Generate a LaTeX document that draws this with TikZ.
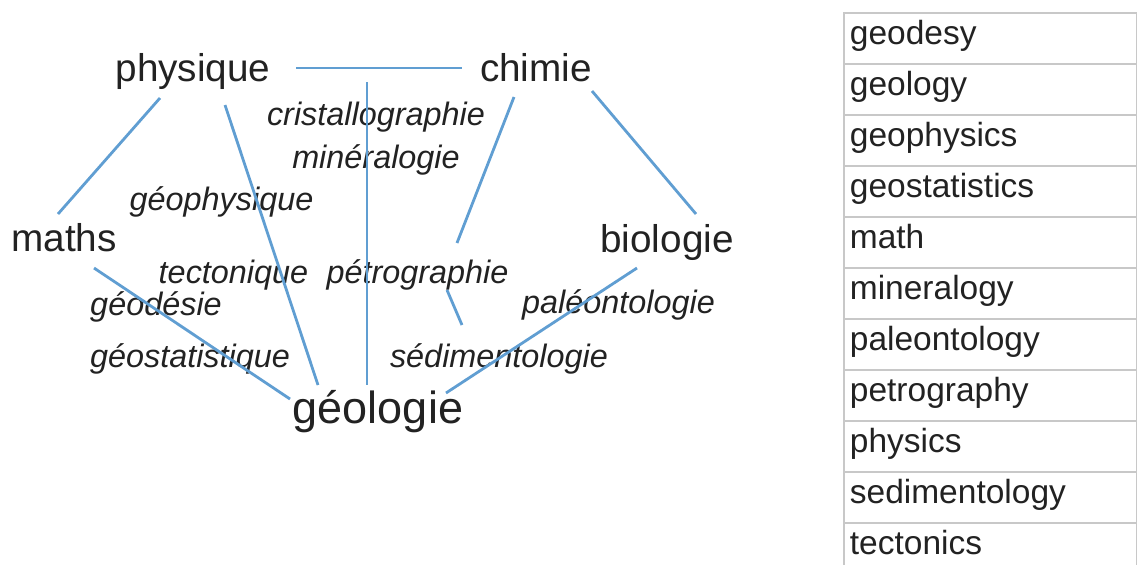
\documentclass[tikz,border=0pt]{standalone}
\usepackage{fontspec}
\setmainfont{Liberation Sans}
\usetikzlibrary{calc, positioning}
\definecolor{linkblue}{RGB}{96,158,210}
\definecolor{ink}{RGB}{34,34,34}
\definecolor{rule}{RGB}{200,200,200}

\begin{document}
\begin{tikzpicture}[x=0.5pt, y=-0.5pt,
    field/.style={anchor=base, inner sep=0pt, text=ink, font=\fontsize{19.35pt}{22pt}\selectfont},
    topic/.style={anchor=base, inner sep=0pt, text=ink, font=\fontsize{16.2pt}{19pt}\selectfont\itshape},
    link/.style={draw=linkblue, line width=1.4pt},
    cell/.style={draw=rule, line width=0.9pt, anchor=north west, inner ysep=0pt, inner xsep=3pt,
        text width=140.5pt, align=left, text height=16pt, text depth=9.5pt, text=ink,
        font=\fontsize{16.75pt}{19pt}\selectfont}]
\useasboundingbox (0,0) rectangle (1137,564);

\node[field] (phys) at (193,81) {physique};
\node[field] (chim) at (536,81) {chimie};
\node[field] (maths) at (64,251) {maths};
\node[field] (bio) at (667,252) {biologie};
\node[field, font=\fontsize{22.5pt}{26pt}\selectfont] (geol) at (378,423) {géologie};

\node[topic] (cristal) at (376,125) {cristallographie};
\node[topic] (miner) at (376,168) {minéralogie};
\node[topic] (geoph) at (221.5,210) {géophysique};
\node[topic] (tecto) at (233.5,283) {tectonique};
\node[topic] (petro) at (417.5,283) {pétrographie};
\node[topic] (geod) at (156,315) {géodésie};
\node[topic] (geostat) at (190,367) {géostatistique};
\node[topic] (paleo) at (618.5,313) {paléontologie};
\node[topic] (sedim) at (499,367) {sédimentologie};

\coordinate (tee) at (367,82);

\draw[link] ([shift={(103,-13)}]phys.base) -- ([shift={(-74,-13)}]chim.base);
\draw[link] (tee) -- ([shift={(-11,-38)}]geol.base);
\draw[link] ([shift={(-33,17)}]phys.base) -- ([shift={(-6,-37)}]maths.base);
\draw[link] ([shift={(32,24)}]phys.base) -- ([shift={(-60,-38)}]geol.base);
\draw[link] ([shift={(-22,16)}]chim.base) -- ([shift={(39.5,-40)}]petro.base);
\draw[link] ([shift={(29.5,7)}]petro.base) -- ([shift={(-37,-42)}]sedim.base);
\draw[link] ([shift={(56,10)}]chim.base) -- ([shift={(29,-38)}]bio.base);
\draw[link] ([shift={(-30,16)}]bio.base) -- ([shift={(68,-30)}]geol.base);
\draw[link] ([shift={(30,17)}]maths.base) -- ([shift={(-88,-24)}]geol.base);

% glossary
\foreach \word [count=\i] in {geodesy, geology, geophysics, geostatistics, math, mineralogy,
    paleontology, petrography, physics, sedimentology, tectonics}
  \node[cell] (row\i) at (843,{12+51*(\i-1)}) {\word};
\end{tikzpicture}
\end{document}
